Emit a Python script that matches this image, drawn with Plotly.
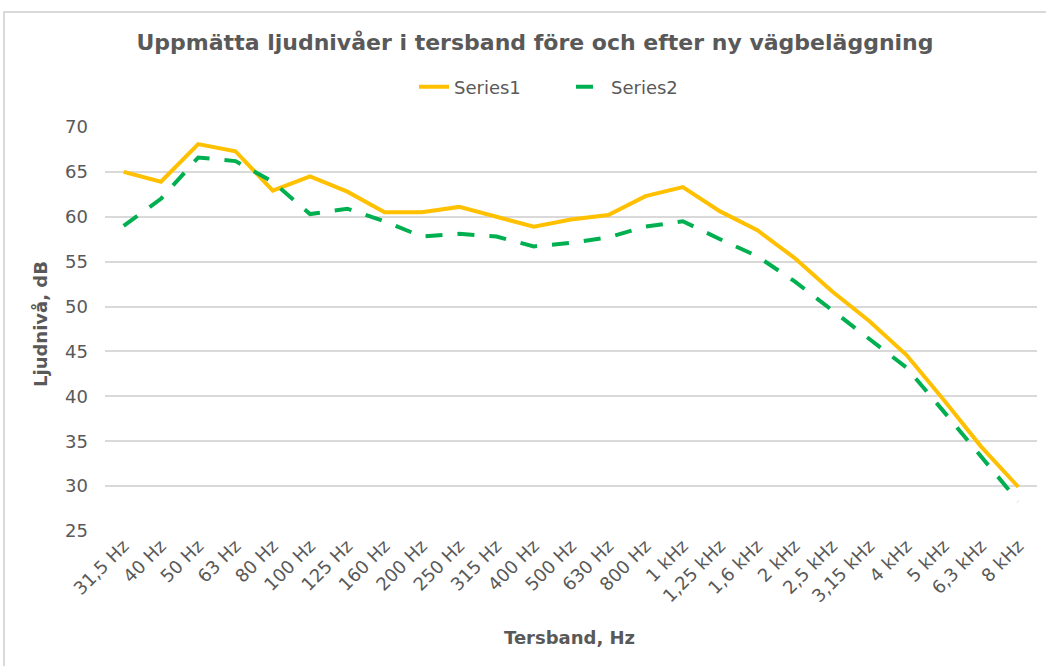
import plotly.graph_objects as go

categories = ["31,5 Hz", "40 Hz", "50 Hz", "63 Hz", "80 Hz", "100 Hz", "125 Hz", "160 Hz",
              "200 Hz", "250 Hz", "315 Hz", "400 Hz", "500 Hz", "630 Hz", "800 Hz", "1 kHz",
              "1,25 kHz", "1,6 kHz", "2 kHz", "2,5 kHz", "3,15 kHz", "4 kHz", "5 kHz",
              "6,3 kHz", "8 kHz"]
series1 = [65.0, 63.9, 68.1, 67.3, 62.9, 64.5, 62.8, 60.5, 60.5, 61.1, 60.0, 58.9, 59.7,
           60.2, 62.3, 63.3, 60.6, 58.5, 55.4, 51.7, 48.4, 44.6, 39.6, 34.4, 29.9]
series2 = [59.0, 62.0, 66.6, 66.2, 63.9, 60.3, 60.9, 59.5, 57.8, 58.1, 57.8, 56.7, 57.1,
           57.7, 58.9, 59.5, 57.5, 55.6, 52.8, 49.6, 46.3, 43.2, 38.3, 33.3, 28.3]
y_ticks = [25, 30, 35, 40, 45, 50, 55, 60, 65, 70]

GRAY = "#595959"
FONT = "DejaVu Sans"

# plot area geometry (pixels)
L, R, T, B = 105, 9, 127, 135
W, H = 1046, 666
PW, PH = W - L - R, H - T - B


def px_x(px):
    return (px - L) / PW


def px_y(py):
    return (H - B - py) / PH


fig = go.Figure()
fig.add_trace(go.Scatter(x=categories, y=series1, name="Series1", mode="lines",
                         line=dict(color="#FFC000", width=4)))
fig.add_trace(go.Scatter(x=categories, y=series2, name="Series2", mode="lines",
                         line=dict(color="#00B050", width=4, dash="17px,15px")))

fig.update_layout(
    width=W, height=H,
    margin=dict(l=L, r=R, t=T, b=B, autoexpand=False),
    paper_bgcolor="white", plot_bgcolor="white",
    font=dict(family=FONT, color=GRAY),
    title=dict(text="<b>Uppmätta ljudnivåer i tersband före och efter ny vägbeläggning</b>",
               x=535 / W, xanchor="center", y=1 - 42 / H, yanchor="middle",
               font=dict(size=22, color=GRAY, family=FONT)),
    legend=dict(orientation="h", x=px_x(414), xanchor="left", y=px_y(87),
                yanchor="middle", font=dict(size=18, color=GRAY, family=FONT),
                entrywidth=112, entrywidthmode="pixels",
                bgcolor="rgba(0,0,0,0)"),
    xaxis=dict(type="category", range=[-0.5, len(categories) - 0.5], tickangle=-45,
               tickfont=dict(size=18, color=GRAY), automargin=False,
               showgrid=False, showline=False, ticks=""),
    yaxis=dict(range=[25, 70], tickvals=y_ticks, tickfont=dict(size=18, color=GRAY),
               showgrid=True, gridcolor="#d9d9d9", gridwidth=1.5, zeroline=False,
               showline=False, ticks="", ticklabelstandoff=16, automargin=False),
    annotations=[
        dict(text="<b>Tersband, Hz</b>", xref="paper", yref="paper",
             x=px_x(569), y=px_y(637), xanchor="center", yanchor="middle",
             showarrow=False, font=dict(size=18, color=GRAY, family=FONT)),
        dict(text="<b>Ljudnivå, dB</b>", xref="paper", yref="paper",
             x=px_x(40), y=px_y(324), xanchor="center", yanchor="middle",
             textangle=-90, showarrow=False, font=dict(size=18, color=GRAY, family=FONT)),
    ],
    shapes=[dict(type="rect", xref="paper", yref="paper",
                 x0=px_x(4), x1=px_x(1052), y0=px_y(672), y1=px_y(12),
                 line=dict(color="#d9d9d9", width=2), fillcolor="rgba(0,0,0,0)",
                 layer="below")],
)

fig.write_html("out.html", config={"displayModeBar": False},
               post_script="document.body.style.margin='0';document.body.style.overflow='hidden';")
